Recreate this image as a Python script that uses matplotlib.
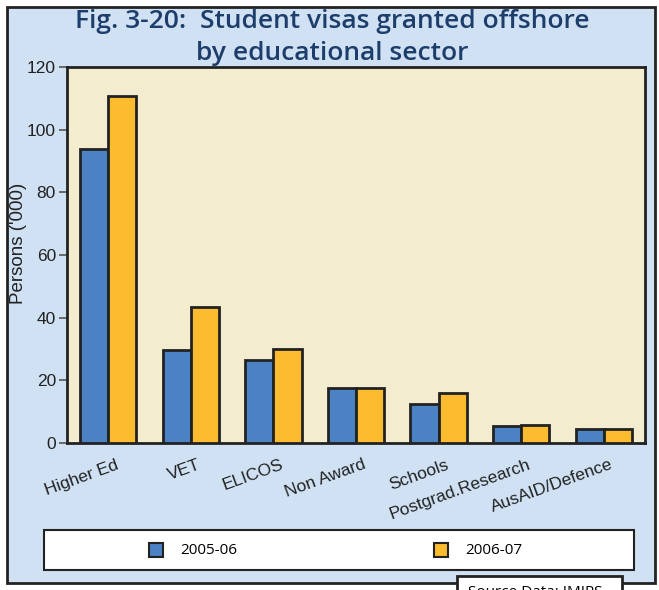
import matplotlib.pyplot as plt
import matplotlib.patches as mpatches
import numpy as np

############################
# Colors
############################

BG_BLUE = "#cfe1f3"
PLOT_CREAM = "#f3ecce"
BAR_BLUE = "#4a82c4"
BAR_ORANGE = "#fdbb2f"
EDGE = "#222222"
TITLE_BLUE = "#1d3d6b"

############################
# Data
############################

sectors = ["Higher Ed", "VET", "ELICOS", "Non Award", "Schools",
           "Postgrad.Research", "AusAID/Defence"]
visas_2005_06 = [93.8, 29.7, 26.5, 17.6, 12.4, 5.4, 4.5]
visas_2006_07 = [110.8, 43.4, 30.0, 17.6, 16.0, 5.7, 4.5]
series_labels = ["2005-06", "2006-07"]
y_ticks = [0, 20, 40, 60, 80, 100, 120]

############################
# Figure
############################

W, H = 659, 590
fig = plt.figure(figsize=(W / 100, H / 100), dpi=100)
fig.patch.set_facecolor("white")

# outer panel
fig.patches.append(mpatches.Rectangle(
    (7 / W, 1 - 583 / H), 648 / W, 576 / H, transform=fig.transFigure,
    facecolor=BG_BLUE, edgecolor=EDGE, linewidth=2, zorder=-5))

fig.text(332 / W, 1 - 22 / H, "Fig. 3-20:  Student visas granted offshore",
         ha="center", va="center", fontsize=19, color=TITLE_BLUE,
         family="Open Sans", weight="semibold")
fig.text(332 / W, 1 - 54 / H, "by educational sector",
         ha="center", va="center", fontsize=19, color=TITLE_BLUE,
         family="Open Sans", weight="semibold")

ax = fig.add_axes([67 / W, 1 - 443 / H, 578 / W, 376 / H])
ax.set_zorder(1)
ax.set_facecolor(PLOT_CREAM)

x = np.arange(len(sectors))
w = 0.34
ax.bar(x - w / 2, visas_2005_06, w, color=BAR_BLUE, edgecolor=EDGE, linewidth=2, zorder=3)
ax.bar(x + w / 2, visas_2006_07, w, color=BAR_ORANGE, edgecolor=EDGE, linewidth=2, zorder=3)

ax.set_xlim(-0.5, len(sectors) - 0.5)
ax.set_ylim(0, 120)
ax.set_yticks(y_ticks)
ax.set_yticklabels([str(t) for t in y_ticks], family="Liberation Sans", fontsize=12.5,
                   color="#222222")
ax.tick_params(axis="y", length=6, width=1.2, color="#555555", pad=2)
ax.set_xticks([])
for s in ax.spines.values():
    s.set_linewidth(2)
    s.set_color(EDGE)

ax.set_ylabel("Persons ('000)", family="Liberation Sans", fontsize=13.5,
              color="#222222")
ax.yaxis.set_label_coords(-0.069, 0.532)

for i, name in enumerate(sectors):
    ax.text(i + 0.08, -4.5, name, rotation=20, rotation_mode="anchor",
            ha="right", va="top", family="Liberation Sans", fontsize=12.5,
            color="#222222", clip_on=False)

# legend box
fig.patches.append(mpatches.Rectangle(
    (44 / W, 1 - 570 / H), 590 / W, 40 / H, transform=fig.transFigure,
    facecolor="white", edgecolor=EDGE, linewidth=1.5, zorder=1))
for cx, col, lab in [(156, BAR_BLUE, series_labels[0]), (441, BAR_ORANGE, series_labels[1])]:
    fig.patches.append(mpatches.Rectangle(
        ((cx - 7) / W, 1 - 557 / H), 14 / W, 14 / H, transform=fig.transFigure,
        facecolor=col, edgecolor=EDGE, linewidth=1.5, zorder=2))
    fig.text((cx + 24) / W, 1 - 550 / H, lab, ha="left", va="center",
             fontsize=11, family="Open Sans", zorder=3)

# source box (cut off at bottom, as in the original page)
fig.patches.append(mpatches.Rectangle(
    (457 / W, 1 - 600 / H), 165 / W, 24 / H, transform=fig.transFigure,
    facecolor="white", edgecolor=EDGE, linewidth=2, zorder=1))
fig.text(468 / W, 1 - 593 / H, "Source Data: IMIPS", ha="left", va="center",
         fontsize=11, family="Open Sans", zorder=3)

fig.savefig("out.png", dpi=100)
